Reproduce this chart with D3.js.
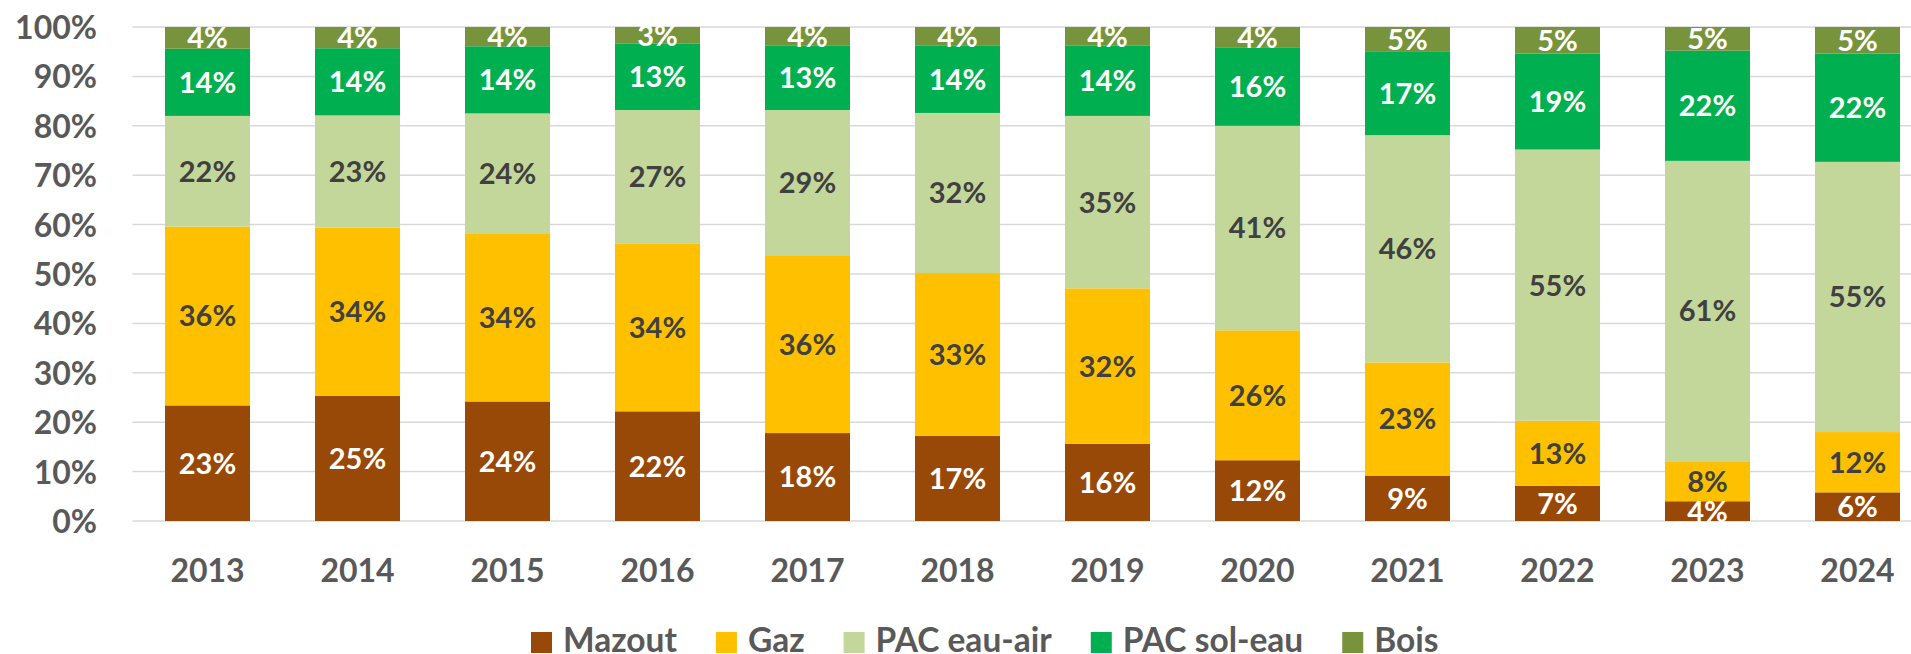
<!DOCTYPE html>
<html>
<head>
<meta charset="utf-8">
<script src="https://cdn.jsdelivr.net/npm/d3@7"></script>
<style>
  body { margin: 0; background: #fff; }
  text { font-family: Lato, "Open Sans", sans-serif; font-weight: 700; }
  .tick text { fill: #595959; }
</style>
</head>
<body>
<script>
// shares of heating systems per year (%)
var years = ["2013", "2014", "2015", "2016", "2017", "2018", "2019", "2020", "2021", "2022", "2023", "2024"];
var mazout = [23.4, 25.3, 24.2, 22.2, 17.8, 17.2, 15.6, 12.3, 9.2, 7.1, 4.0, 5.8];
var gaz = [36.2, 34.1, 33.9, 33.9, 36.0, 33.0, 31.5, 26.3, 22.9, 13.2, 8.1, 12.2];
var pacEauAir = [22.4, 22.7, 24.4, 27.1, 29.4, 32.4, 34.9, 41.4, 46.0, 54.9, 60.8, 54.7];
var pacSolEau = [13.6, 13.6, 13.6, 13.4, 13.1, 13.7, 14.2, 15.9, 17.0, 19.4, 22.3, 21.9];
var bois = [4.4, 4.3, 3.9, 3.4, 3.7, 3.7, 3.8, 4.1, 4.9, 5.4, 4.8, 5.4];
var seriesNames = ["Mazout", "Gaz", "PAC eau-air", "PAC sol-eau", "Bois"];
var yTicks = [0, 0.1, 0.2, 0.3, 0.4, 0.5, 0.6, 0.7, 0.8, 0.9, 1];

var colors = ["#984807", "#FFC000", "#C4D79B", "#00B050", "#77933C"];
var labelColors = ["#fff", "#404040", "#404040", "#fff", "#fff"];
var seriesData = [mazout, gaz, pacEauAir, pacSolEau, bois];

var width = 1911, height = 654;
var plotLeft = 132.5, plotRight = 1932.5, plotTop = 27, plotBottom = 521;

var table = years.map(function (y, i) {
    var row = { year: y };
    seriesNames.forEach(function (s, k) { row[s] = seriesData[k][i]; });
    return row;
});

var stacked = d3.stack()
    .keys(seriesNames)
    .offset(d3.stackOffsetExpand)(table);

//scales
var x = d3.scaleBand()
    .domain(years)
    .range([plotLeft, plotRight])
    .paddingInner(0.4333)
    .paddingOuter(0.2167);
var y = d3.scaleLinear()
    .domain([0, 1])
    .range([plotBottom, plotTop]);

var svg = d3.select("body")
    .append("svg")
    .attr("width", width)
    .attr("height", height);

//gridlines
svg.append("g").selectAll("line")
    .data(yTicks)
    .enter().append("line")
    .attr("x1", plotLeft)
    .attr("x2", width)
    .attr("y1", function (d) { return y(d); })
    .attr("y2", function (d) { return y(d); })
    .attr("stroke", "#D9D9D9")
    .attr("stroke-width", 1.5);

//y axis
var yAxis = svg.append("g")
    .attr("transform", "translate(97,0)")
    .call(d3.axisLeft(y).tickValues(yTicks).tickFormat(d3.format(".0%")).tickSize(0).tickPadding(0));
yAxis.select(".domain").remove();
yAxis.selectAll("text")
    .attr("dy", "0.36em")
    .style("font-size", "32px");

//x axis
var xAxis = svg.append("g")
    .attr("transform", "translate(0," + plotBottom + ")")
    .call(d3.axisBottom(x).tickSize(0).tickPadding(0));
xAxis.select(".domain").remove();
xAxis.selectAll("text")
    .attr("y", 61)
    .attr("dy", 0)
    .style("font-size", "32px");

//bars
var layers = svg.append("g").selectAll("g")
    .data(stacked)
    .enter().append("g")
    .attr("fill", function (d, i) { return colors[i]; });

layers.selectAll("rect")
    .data(function (d) { return d; })
    .enter().append("rect")
    .attr("x", function (d) { return x(d.data.year); })
    .attr("y", function (d) { return y(d[1]); })
    .attr("width", x.bandwidth())
    .attr("height", function (d) { return y(d[0]) - y(d[1]); });

//data labels
svg.append("g").selectAll("g")
    .data(stacked)
    .enter().append("g")
    .attr("fill", function (d, i) { return labelColors[i]; })
    .selectAll("text")
    .data(function (d) { return d.map(function (p) { return { p: p, key: d.key }; }); })
    .enter().append("text")
    .attr("x", function (d) { return x(d.p.data.year) + x.bandwidth() / 2; })
    .attr("y", function (d) { return (y(d.p[0]) + y(d.p[1])) / 2; })
    .attr("dy", "0.36em")
    .attr("text-anchor", "middle")
    .style("font-size", "29px")
    .text(function (d) { return Math.round(d.p.data[d.key]) + "%"; });

//legend
var legend = svg.append("g");
var lx = 531;
seriesNames.forEach(function (s, i) {
    legend.append("rect")
        .attr("x", lx)
        .attr("y", 632)
        .attr("width", 21)
        .attr("height", 21)
        .attr("fill", colors[i]);
    var t = legend.append("text")
        .attr("x", lx + 32)
        .attr("y", 652)
        .attr("fill", "#595959")
        .style("font-size", "33.5px")
        .text(s);
    lx += 32 + t.node().getComputedTextLength() + 39;
});
</script>
</body>
</html>
